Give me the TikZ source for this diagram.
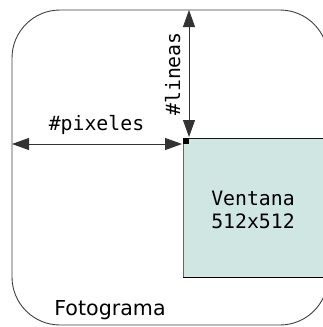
\documentclass[tikz,border=0pt]{standalone}
\usepackage{fontspec}
\setmainfont{DejaVu Sans}
\setmonofont{DejaVu Sans Mono}
\usetikzlibrary{arrows.meta}
\definecolor{winfill}{HTML}{D0E6E3}
\tikzset{
  frame/.style={draw=black!75, line width=0.9pt, rounded corners=48pt},
  tip/.tip={Triangle[length=17pt,width=12pt]},
  dim/.style={draw=black!80, line width=0.9pt, tip-tip},
  lbl/.style={font=\ttfamily\fontsize{19.8}{23}\selectfont, inner sep=0pt, anchor=base}
}
\begin{document}
\begin{tikzpicture}[x=1pt,y=-1pt]
  \useasboundingbox (0,0) rectangle (323,327);
  \clip (0,0) rectangle (323,327);
  % outer frame
  \draw[frame] (12,10) rectangle (328,325);
  % window
  \fill[winfill] (183,138) rectangle (330,277);
  \draw[black!60, line width=0.9pt] (183,277) -- (183,138);
  \draw[black!90, line width=0.9pt] (183,138) -- (330,138);
  \draw[black, line width=1pt] (183,277) -- (330,277);
  \node[lbl] (win) at (253,205) {Ventana};
  \node[lbl] (winsize) at (253,228) {512x512};
  % corner marker
  \fill[black] (183,138) rectangle (189,144);
  \coordinate (ctop) at (189,10);
  \coordinate (cmark) at (189,137);
  \coordinate (cleft) at (12,144);
  \coordinate (cmark2) at (182,144);
  % dimensions
  \draw[dim] (ctop) -- (cmark);
  \draw[dim] (cleft) -- (cmark2);
  \node[lbl, rotate=90] (lineas) at (180,74) {\#lineas};
  \node[lbl] (pixeles) at (96.5,130) {\#pixeles};
  \node[lbl, font=\rmfamily\fontsize{20.6}{24}\selectfont] (foto) at (110,315) {Fotograma};
\end{tikzpicture}
\end{document}
